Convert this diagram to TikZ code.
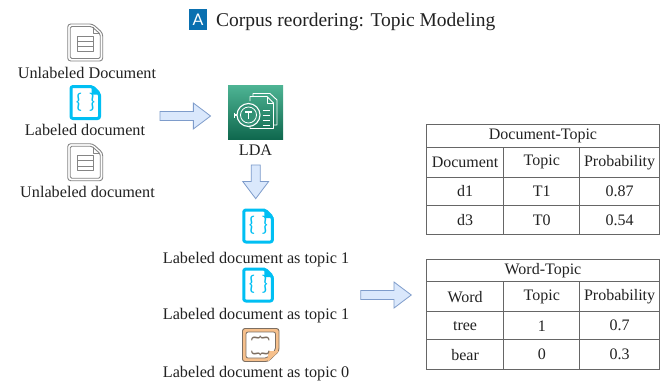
\documentclass[tikz,border=0pt]{standalone}
\usepackage{fontspec}
\setmainfont{Liberation Serif}
\newfontfamily\badgefont{Lato}
\usetikzlibrary{shapes.arrows}
\definecolor{txt}{HTML}{222222}
\definecolor{gridc}{HTML}{666666}
\definecolor{docc}{HTML}{858585}
\definecolor{cyanc}{HTML}{00BFF3}
\definecolor{arrowfill}{HTML}{DAE8FC}
\definecolor{arrowline}{HTML}{7E9CCB}
\definecolor{orangec}{HTML}{F6C08C}
\definecolor{brownc}{HTML}{7D6F62}
\tikzset{
  lbl/.style={anchor=base,inner sep=0pt,text=txt,font=\fontsize{16.2}{18}\selectfont},
  cell/.style={draw=gridc,line width=.9pt,anchor=north west,inner sep=0pt,minimum width=#1,text=txt,font=\fontsize{16}{18}\selectfont},
  blockarrow/.style={single arrow,draw=arrowline,fill=arrowfill,line width=.8pt,inner sep=0pt,
    minimum width=25pt,minimum height=#1,single arrow head extend=8.4pt,single arrow tip angle=74,anchor=center},
  docline/.style={draw=docc,line width=.9pt,line join=round},
  icw/.style={draw=white,line width=.9pt,line join=round}
}
\newcommand{\plaindoc}[2]{%
  \begin{scope}[shift={(#1,#2)}]
    \draw[docline,rounded corners=3pt] (0,0) -- (25,0) -- (35,9) -- (35,37) -- (0,37) -- cycle;
    \draw[docline,rounded corners=1.5pt] (2.5,2.5) -- (24,2.5) -- (32.5,10) -- (32.5,34.5) -- (2.5,34.5) -- cycle;
    \draw[docline] (25.5,3) -- (25.5,9.5) -- (32,9.5);
    \draw[docline,fill=white] (9.5,12) rectangle (25.5,17);
    \draw[docline,fill=white] (9.5,17) rectangle (25.5,22.5);
    \draw[docline,fill=white] (9.5,22.5) rectangle (25.5,27);
  \end{scope}}
\newcommand{\bluedoc}[3]{%
  \begin{scope}[shift={(#1,#2)}]
    \draw[draw=cyanc,line width=3pt,rounded corners=2pt,line join=round] (1.5,1.5) -- (23,1.5) -- (30,8.5) -- (30,33.5) -- (1.5,33.5) -- cycle;
    \fill[cyanc] (22,0) -- (31.5,9.5) -- (22,9.5) -- cycle;
    \node[inner sep=0pt,text=cyanc,font=\badgefont\fontsize{20}{20}\selectfont] (#3) at (16,17) {\{\kern7pt\}};
  \end{scope}}
\begin{document}
\begin{tikzpicture}[x=1pt,y=-1pt]
\useasboundingbox (0,0) rectangle (661,381);
\fill[white] (0,0) rectangle (661,381);
% title
\node[fill={rgb,255:red,10;green,112;blue,176},text=white,minimum width=18pt,minimum height=20.7pt,inner sep=0pt,anchor=center,font=\badgefont\fontsize{16}{16}\selectfont] (badge) at (198,19.6) {A};
\node[anchor=base west,inner sep=0pt,text=txt,font=\fontsize{19.5}{22}\selectfont] (title) at (216,26.5) {Corpus reordering: Topic Modeling};
% left column
\plaindoc{67.7}{24}
\node[lbl] (u1) at (87,78.5) {Unlabeled Document};
\bluedoc{69.5}{85}{b0}
\node[lbl] (l0) at (85,135.5) {Labeled document};
\plaindoc{67.7}{143.7}
\node[lbl] (u2) at (87.5,197.5) {Unlabeled document};
\node[blockarrow=50.5pt] (a1) at (182.3,116) {\rule{0pt}{8.3pt}};
% LDA
\node[minimum width=55pt,minimum height=54pt,inner sep=0pt,top color={rgb,255:red,78;green,180;blue,148},bottom color={rgb,255:red,15;green,104;blue,78}] (lda) at (255.5,112) {};
\draw[icw,fill=none] (253,96) -- (253,93.5) -- (270,93.5) -- (277,100) -- (277,125) -- (274,125);
\draw[icw,fill=none] (250,101) -- (250,96.5) -- (267,96.5) -- (273.5,103) -- (273.5,128.5) -- (250,128.5) -- (250,126);
\draw[icw] (267,96.5) -- (267,103) -- (273.5,103);
\foreach \yy in {110,115,120,125}{\draw[icw] (262.5,\yy) -- (270,\yy);}
\draw[icw,line width=1.1pt,fill={rgb,255:red,50;green,145;blue,118}] (248.5,115) circle (11.5);
\draw[icw,line width=.8pt] (248.5,115) circle (8);
\draw[icw,line width=1.4pt] (245,112) -- (252,112) (248.5,112) -- (248.5,119);
\draw[icw,line width=1.2pt] (237,115) -- (234,115) (234.5,112.5) -- (234.5,117.5);
\node[lbl] (ldat) at (255.5,155) {LDA};
\node[blockarrow=33.7pt,rotate=-90] (a2) at (255.7,178.8) {\rule{0pt}{8.3pt}};
% output docs
\bluedoc{242.3}{208.5}{b1}
\node[lbl] (t1) at (256,263) {Labeled document as topic 1};
\bluedoc{242.3}{267.5}{b2}
\node[lbl] (t2) at (256,319.5) {Labeled document as topic 1};
\draw[draw=brownc,line width=.9pt,fill=orangec,rounded corners=2.5pt] (242.5,328.5) -- (279,328.5) -- (279,351) -- (268,361.5) -- (242.5,361.5) -- cycle;
\draw[draw=brownc,line width=.8pt,fill=white,rounded corners=2pt] (246,332) -- (275.5,332) -- (275.5,350) -- (267,358) -- (246,358) -- cycle;
\fill[orangec] (268,351) -- (279,351) -- (268,361.5) -- cycle;
\node[inner sep=0pt,text=brownc,rotate=90,font=\badgefont\fontsize{20}{20}\selectfont] (b3) at (260.5,345.5) {\{\kern9pt\}};
\node[lbl] (t3) at (256,377.3) {Labeled document as topic 0};
\node[blockarrow=50.5pt] (a3) at (383,295) {\rule{0pt}{8.3pt}};
% table 1
\node[cell=233pt,minimum height=22.4pt] (h1) at (426,124.3) {Document-Topic};
\node[cell=77.3pt,minimum height=30.3pt] (c11) at (426,146.7) {Document};
\node[cell=76pt,minimum height=30.3pt] (c12) at (503.3,146.7) {Topic};
\node[cell=79.7pt,minimum height=30.3pt] (c13) at (579.3,146.7) {Probability};
\node[cell=77.3pt,minimum height=28pt] (c21) at (426,177) {d1};
\node[cell=76pt,minimum height=28pt] (c22) at (503.3,177) {T1};
\node[cell=79.7pt,minimum height=28pt] (c23) at (579.3,177) {0.87};
\node[cell=77.3pt,minimum height=29.3pt] (c31) at (426,205) {d3};
\node[cell=76pt,minimum height=29.3pt] (c32) at (503.3,205) {T0};
\node[cell=79.7pt,minimum height=29.3pt] (c33) at (579.3,205) {0.54};
% table 2
\node[cell=233pt,minimum height=21.7pt] (h2) at (426,259.3) {Word-Topic};
\node[cell=77.3pt,minimum height=30.3pt] (w11) at (426,281) {Word};
\node[cell=76pt,minimum height=30.3pt] (w12) at (503.3,281) {\raisebox{2.5pt}{Topic}};
\node[cell=79.7pt,minimum height=30.3pt] (w13) at (579.3,281) {Probability};
\node[cell=77.3pt,minimum height=28pt] (w21) at (426,311.3) {tree};
\node[cell=76pt,minimum height=28pt] (w22) at (503.3,311.3) {1};
\node[cell=79.7pt,minimum height=28pt] (w23) at (579.3,311.3) {0.7};
\node[cell=77.3pt,minimum height=29.7pt] (w31) at (426,339.3) {bear};
\node[cell=76pt,minimum height=29.7pt] (w32) at (503.3,339.3) {0};
\node[cell=79.7pt,minimum height=29.7pt] (w33) at (579.3,339.3) {0.3};
\end{tikzpicture}
\end{document}
